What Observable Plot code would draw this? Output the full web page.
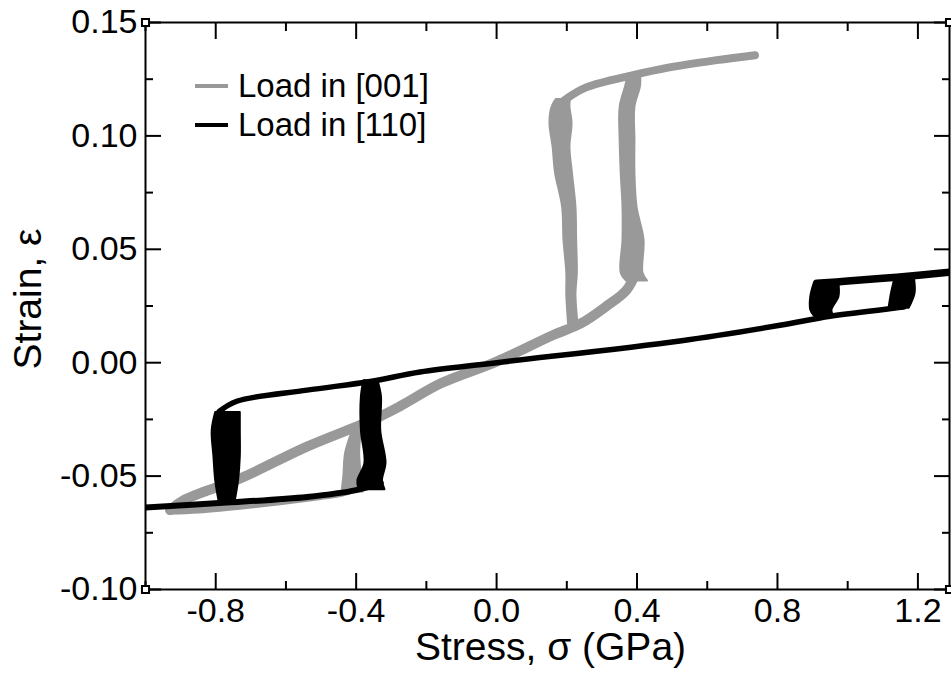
<!DOCTYPE html>
<html>
<head>
<meta charset="utf-8">
<script src="https://cdn.jsdelivr.net/npm/d3@7"></script>
<script src="https://cdn.jsdelivr.net/npm/@observablehq/plot@0.6"></script>
<style>
  html, body { margin: 0; padding: 0; background: #fff; }
  #wrap { position: relative; width: 951px; height: 673px; font-family: "Liberation Sans", Arial, Helvetica, sans-serif; }
  .leg-line { position: absolute; height: 4px; width: 33px; left: 195px; }
  .leg-text { position: absolute; left: 238px; font-size: 33px; line-height: 33px; white-space: nowrap; color: #000; }
</style>
</head>
<body>
<div id="wrap"></div>
<script>
// ---------- axes ----------
const xDomain = [-1.0, 1.29];
const yDomain = [-0.10, 0.15];
const xMajor = [-0.8, -0.4, 0.0, 0.4, 0.8, 1.2];
const xMinor = [-1.0, -0.6, -0.2, 0.2, 0.6, 1.0];
const yMajor = [-0.10, -0.05, 0.00, 0.05, 0.10, 0.15];
const yMinor = [-0.075, -0.025, 0.025, 0.075, 0.125];
const xTitle = "Stress, σ (GPa)";
const yTitle = "Strain, ε";
const seriesNames = ["Load in [001]", "Load in [110]"];
const seriesColors = ["#999999", "#000000"];

// ---------- Load in [001] (gray) ----------
// diagonal branch: compression end -> origin -> start of tensile transformation
const g001DiagStress = [-0.93, -0.89, -0.73, -0.54, -0.35, -0.275, -0.16, 0.00, 0.16, 0.24, 0.31, 0.37, 0.40];
const g001DiagStrain = [-0.0650, -0.0605, -0.0510, -0.0370, -0.0250, -0.0192, -0.0092, 0.0005, 0.0121, 0.0173, 0.0246, 0.0320, 0.0410];
// upper (transformed) branch in tension
const g001UpperStress = [0.17, 0.20, 0.257, 0.389, 0.485, 0.627, 0.736];
const g001UpperStrain = [0.1125, 0.1165, 0.1215, 0.1268, 0.1300, 0.1334, 0.1356];
// lower branch in compression
const g001LowerStress = [-0.93, -0.85, -0.70, -0.55, -0.44, -0.41];
const g001LowerStrain = [-0.0655, -0.0650, -0.0628, -0.0600, -0.0575, -0.0560];
// tensile forward transformation band (sigma ~ 0.38)
const g001FwdStrain = [0.036, 0.0395, 0.054, 0.0686, 0.0836, 0.098, 0.1126, 0.122, 0.127];
const g001FwdLo     = [0.370, 0.355, 0.360, 0.360, 0.355, 0.352, 0.352, 0.368, 0.375];
const g001FwdHi     = [0.430, 0.417, 0.420, 0.400, 0.394, 0.394, 0.394, 0.410, 0.410];
// tensile reverse transformation band (sigma ~ 0.2)
const g001RevStrain = [0.017, 0.030, 0.0395, 0.054, 0.0686, 0.0835, 0.095, 0.1056, 0.1126, 0.116];
const g001RevLo     = [0.205, 0.200, 0.200, 0.192, 0.188, 0.168, 0.161, 0.152, 0.158, 0.170];
const g001RevHi     = [0.232, 0.226, 0.230, 0.228, 0.226, 0.216, 0.209, 0.215, 0.209, 0.210];
// compressive reverse transformation band (sigma ~ -0.41)
const g001CompStrain = [-0.057, -0.050, -0.040, -0.030];
const g001CompLo     = [-0.440, -0.435, -0.430, -0.410];
const g001CompHi     = [-0.380, -0.385, -0.390, -0.385];

// ---------- Load in [110] (black) ----------
const b110ElasticStress = [-0.79, -0.74, -0.54, -0.36, -0.218, 0.00, 0.522, 0.807, 0.95, 1.13, 1.16];
const b110ElasticStrain = [-0.0215, -0.0170, -0.0121, -0.0083, -0.0041, 0.0000, 0.0096, 0.0165, 0.0205, 0.0240, 0.0245];
const b110LowerStress = [-1.00, -0.78, -0.54, -0.40, -0.33];
const b110LowerStrain = [-0.0638, -0.0618, -0.0592, -0.0562, -0.0530];
const b110UpperStress = [0.912, 1.00, 1.14, 1.29];
const b110UpperStrain = [0.0350, 0.0360, 0.0377, 0.0399];
// compressive forward band (sigma ~ -0.77)
const b110CFwdStrain = [-0.0615, -0.052, -0.0415, -0.030, -0.022];
const b110CFwdLo     = [-0.790, -0.800, -0.805, -0.810, -0.800];
const b110CFwdHi     = [-0.745, -0.735, -0.730, -0.730, -0.730];
// compressive reverse band (sigma ~ -0.35)
const b110CRevStrain = [-0.056, -0.052, -0.0444, -0.030, -0.015, -0.008];
const b110CRevLo     = [-0.392, -0.395, -0.375, -0.385, -0.385, -0.378];
const b110CRevHi     = [-0.318, -0.325, -0.315, -0.330, -0.328, -0.338];
// tensile reverse band (sigma ~ 0.93)
const b110TRevStrain = [0.0205, 0.0231, 0.029, 0.035];
const b110TRevLo     = [0.905, 0.895, 0.895, 0.905];
const b110TRevHi     = [0.960, 0.955, 0.975, 0.975];
// tensile forward band (sigma ~ 1.16)
const b110TFwdStrain = [0.024, 0.0306, 0.0372];
const b110TFwdLo     = [1.118, 1.125, 1.135];
const b110TFwdHi     = [1.175, 1.192, 1.190];

// ---------- build tables ----------
const pts = (s, e) => s.map((v, i) => ({sigma: v, eps: e[i]}));
const band = (e, lo, hi) => e.map((v, i) => ({eps: v, lo: lo[i], hi: hi[i]}));

const gray = seriesColors[0], black = seriesColors[1];
const lineOpts = (c, w) => ({x: "sigma", y: "eps", stroke: c, strokeWidth: w, curve: "catmull-rom", strokeLinecap: "round", strokeLinejoin: "round", clip: true});
const bandOpts = (c) => ({y: "eps", x1: "lo", x2: "hi", fill: c, stroke: c, strokeWidth: 2, curve: "catmull-rom", clip: true});

const fmtX = d => d.toFixed(1);
const fmtY = d => d.toFixed(2);
const font = 34;

const chart = Plot.plot({
  width: 951,
  height: 673,
  marginLeft: 145,
  marginRight: 2,
  marginTop: 22,
  marginBottom: 84,
  x: {domain: xDomain, label: null},
  y: {domain: yDomain, label: null},
  style: {fontFamily: "'Liberation Sans', Arial, Helvetica, sans-serif", background: "white", color: "black"},
  marks: [
    // gray series
    Plot.line(pts(g001DiagStress, g001DiagStrain), lineOpts(gray, 10)),
    Plot.line(pts(g001UpperStress, g001UpperStrain), lineOpts(gray, 8)),
    Plot.line(pts(g001LowerStress, g001LowerStrain), lineOpts(gray, 7)),
    Plot.areaX(band(g001FwdStrain, g001FwdLo, g001FwdHi), bandOpts(gray)),
    Plot.areaX(band(g001RevStrain, g001RevLo, g001RevHi), bandOpts(gray)),
    Plot.areaX(band(g001CompStrain, g001CompLo, g001CompHi), bandOpts(gray)),
    // black series
    Plot.line(pts(b110ElasticStress, b110ElasticStrain), lineOpts(black, 5.5)),
    Plot.line(pts(b110LowerStress, b110LowerStrain), lineOpts(black, 6)),
    Plot.line(pts(b110UpperStress, b110UpperStrain), lineOpts(black, 7.5)),
    Plot.areaX(band(b110CFwdStrain, b110CFwdLo, b110CFwdHi), bandOpts(black)),
    Plot.areaX(band(b110CRevStrain, b110CRevLo, b110CRevHi), bandOpts(black)),
    Plot.areaX(band(b110TRevStrain, b110TRevLo, b110TRevHi), bandOpts(black)),
    Plot.areaX(band(b110TFwdStrain, b110TFwdLo, b110TFwdHi), bandOpts(black)),
    // frame
    Plot.frame({stroke: "black", strokeWidth: 2}),
    // inward ticks, major
    Plot.axisX(xMajor, {anchor: "bottom", tickSize: 16, dy: -16, text: null, label: null, strokeWidth: 2}),
    Plot.axisX(xMajor, {anchor: "top", tickSize: 16, dy: 16, text: null, label: null, strokeWidth: 2}),
    Plot.axisY(yMajor, {anchor: "left", tickSize: 16, dx: 16, text: null, label: null, strokeWidth: 2}),
    Plot.axisY(yMajor, {anchor: "right", tickSize: 16, dx: -16, text: null, label: null, strokeWidth: 2}),
    // inward ticks, minor
    Plot.axisX(xMinor, {anchor: "bottom", tickSize: 8, dy: -8, text: null, label: null, strokeWidth: 2}),
    Plot.axisX(xMinor, {anchor: "top", tickSize: 8, dy: 8, text: null, label: null, strokeWidth: 2}),
    Plot.axisY(yMinor, {anchor: "left", tickSize: 8, dx: 8, text: null, label: null, strokeWidth: 2}),
    Plot.axisY(yMinor, {anchor: "right", tickSize: 8, dx: -8, text: null, label: null, strokeWidth: 2}),
    // tick labels
    Plot.axisX(xMajor, {anchor: "bottom", tickSize: 0, tickPadding: 8, tickFormat: fmtX, fontSize: font, label: null}),
    Plot.axisY(yMajor, {anchor: "left", tickSize: 0, tickPadding: 8, tickFormat: fmtY, fontSize: font, label: null}),
    // corner markers
    Plot.dot([[xDomain[0], yDomain[0]], [xDomain[0], yDomain[1]], [xDomain[1], yDomain[0]], [xDomain[1], yDomain[1]]],
      {x: d => d[0], y: d => d[1], symbol: "square", r: 4, fill: "white", stroke: "black", strokeWidth: 2}),
    // axis titles
    Plot.text([xTitle], {frameAnchor: "bottom", textAnchor: "middle", lineAnchor: "middle", dx: 3, dy: 58, fontSize: 39}),
    Plot.text([yTitle], {frameAnchor: "left", textAnchor: "middle", lineAnchor: "middle", rotate: -90, dx: -117, dy: -7, fontSize: 39})
  ]
});

const wrap = document.getElementById("wrap");
wrap.appendChild(chart);

// legend (inside plot area, top-left)
const legendTops = [69, 108];
seriesNames.forEach((name, i) => {
  const ln = document.createElement("div");
  ln.className = "leg-line";
  ln.style.top = (legendTops[i] + 15) + "px";
  ln.style.background = seriesColors[i];
  wrap.appendChild(ln);
  const tx = document.createElement("div");
  tx.className = "leg-text";
  tx.style.top = legendTops[i] + "px";
  tx.textContent = name;
  wrap.appendChild(tx);
});
</script>
</body>
</html>
